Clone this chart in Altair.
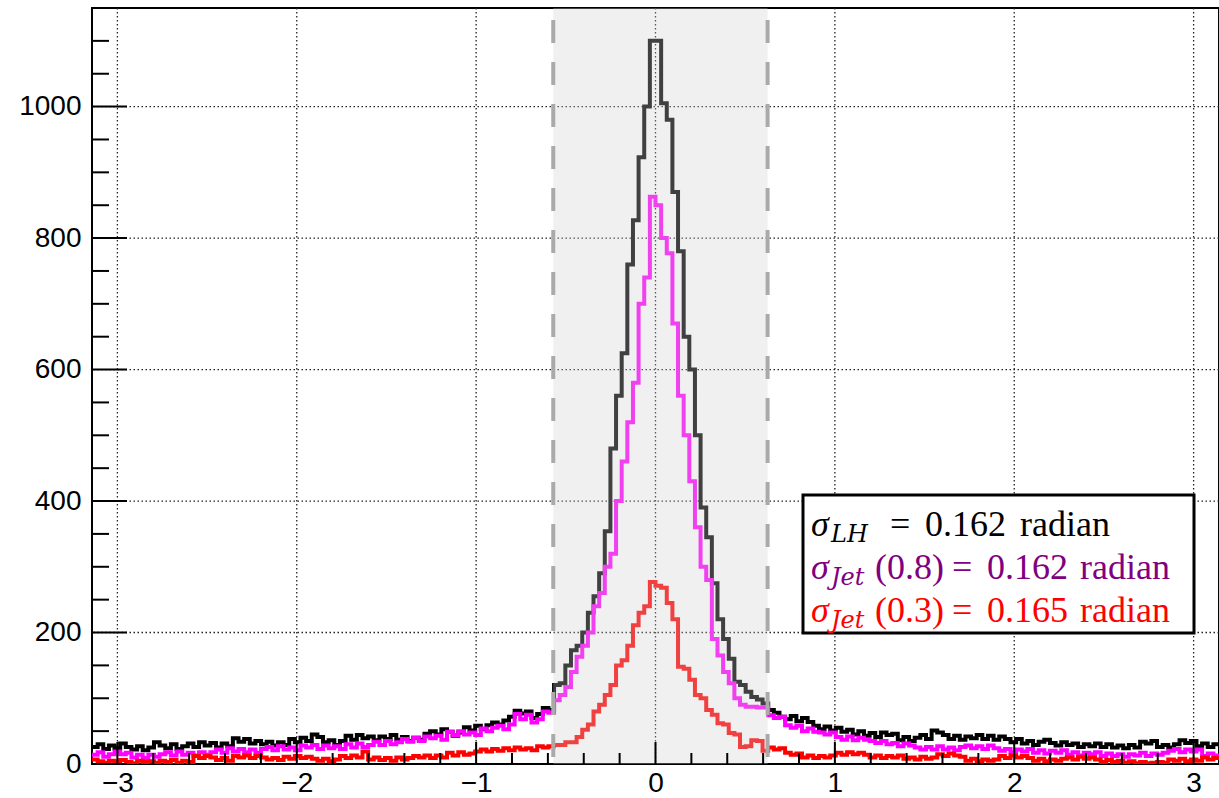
import math
import numpy as np
import pandas as pd
import altair as alt

PI = math.pi
N_BINS = 200

# ---- histogram contents (200 bins from -pi to pi) ----
lh_counts = [
    26, 30, 23, 28, 24, 31, 26, 22, 27, 21,
    25, 33, 28, 24, 30, 23, 27, 31, 26, 33,
    28, 32, 25, 31, 27, 39, 34, 38, 31, 35,
    30, 34, 28, 33, 29, 38, 33, 40, 35, 45,
    41, 33, 36, 29, 35, 43, 37, 44, 39, 42,
    36, 42, 38, 44, 37, 41, 35, 40, 37, 46,
    50, 45, 53, 49, 43, 48, 56, 51, 58, 53,
    59, 63, 60, 66, 72, 81, 77, 80, 70, 76,
    85, 82, 120, 123, 150, 173, 180, 200, 230, 255,
    290, 354, 480, 560, 625, 760, 827, 923, 1000, 1100,
    1100, 1005, 980, 870, 780, 650, 600, 500, 390, 345,
    275, 220, 190, 160, 125, 120, 110, 102, 98, 92,
    82, 78, 72, 68, 73, 65, 70, 64, 58, 53,
    57, 51, 55, 49, 52, 45, 50, 43, 47, 41,
    48, 44, 46, 36, 41, 35, 40, 44, 38, 51,
    48, 44, 38, 43, 37, 42, 39, 44, 38, 43,
    37, 42, 38, 33, 38, 31, 35, 29, 34, 37,
    32, 28, 33, 29, 31, 26, 30, 27, 31, 26,
    30, 25, 28, 24, 29, 25, 34, 31, 35, 26,
    29, 25, 30, 36, 32, 35, 27, 31, 26, 30,
]

jet08_counts = [
    14, 18, 11, 15, 19, 15, 17, 10, 14, 9,
    14, 11, 15, 18, 13, 19, 14, 17, 13, 18,
    14, 18, 22, 17, 24, 19, 23, 18, 22, 17,
    23, 26, 21, 27, 22, 25, 21, 28, 25, 29,
    23, 28, 24, 27, 23, 30, 25, 31, 26, 29,
    34, 29, 35, 30, 33, 38, 34, 40, 35, 42,
    39, 43, 37, 49, 44, 50, 45, 48, 44, 54,
    50, 55, 58, 53, 60, 76, 68, 75, 63, 68,
    80, 78, 97, 105, 117, 140, 163, 180, 200, 240,
    260, 300, 320, 400, 460, 520, 580, 700, 740, 863,
    850, 800, 777, 670, 560, 500, 430, 360, 300, 280,
    190, 165, 140, 123, 100, 90, 87, 87, 86, 86,
    74, 70, 72, 59, 55, 58, 50, 54, 49, 48,
    45, 48, 41, 37, 42, 36, 40, 37, 35, 32,
    35, 30, 32, 27, 31, 28, 25, 22, 26, 22,
    27, 22, 25, 21, 26, 28, 24, 27, 23, 28,
    24, 20, 23, 18, 22, 19, 23, 17, 21, 16,
    20, 17, 21, 14, 18, 13, 17, 15, 18, 12,
    16, 12, 15, 11, 15, 13, 17, 12, 16, 14,
    17, 20, 23, 18, 22, 19, 22, 12, 16, 13,
]

jet03_counts = [
    7, 4, 2, 5, 3, 6, 3, 1, 5, 3,
    4, 2, 5, 3, 6, 2, 5, 3, 12, 9,
    12, 10, 6, 9, 5, 12, 10, 13, 9, 12,
    10, 7, 9, 6, 11, 8, 12, 9, 11, 8,
    5, 8, 4, 7, 12, 9, 13, 10, 19, 7,
    10, 6, 9, 5, 10, 7, 9, 12, 10, 13,
    9, 13, 10, 17, 13, 18, 14, 16, 19, 22,
    19, 23, 20, 24, 21, 25, 22, 24, 21, 27,
    25, 27, 29, 29, 33, 33, 41, 52, 60, 80,
    90, 105, 120, 150, 158, 180, 211, 230, 240, 277,
    271, 268, 245, 220, 148, 145, 128, 105, 100, 82,
    75, 62, 60, 47, 45, 26, 27, 36, 35, 20,
    25, 22, 24, 17, 14, 16, 10, 13, 9, 12,
    10, 13, 17, 14, 18, 15, 17, 14, 10, 13,
    9, 12, 10, 13, 8, 10, 7, 11, 8, 10,
    15, 12, 16, 13, 11, 5, 8, 4, 7, 5,
    7, 12, 9, 13, 10, 12, 9, 5, 8, 4,
    7, 5, 8, 10, 7, 11, 8, 10, 7, 3,
    6, 3, 5, 2, 4, 1, 3, 1, 2, 3,
    2, 7, 5, 8, 4, 7, 5, 10, 7, 9,
]

band_edges = [-0.57, 0.625]
x_major_ticks = [-3, -2, -1, 0, 1, 2, 3]
x_minor_ticks = [-2.8, -2.6, -2.4, -2.2, -1.8, -1.6, -1.4, -1.2, -0.8, -0.6, -0.4, -0.2,
                 0.2, 0.4, 0.6, 0.8, 1.2, 1.4, 1.6, 1.8, 2.2, 2.4, 2.6, 2.8]
y_major_ticks = [0, 200, 400, 600, 800, 1000]
y_minor_ticks = [50, 100, 150, 250, 300, 350, 450, 500, 550, 650, 700, 750,
                 850, 900, 950, 1050, 1100, 1150]

legend_lines = [
    # (sigma subscript, argument, value, colour)
    ("LH", "", "0.162", "#000000"),
    ("Jet", "(0.8)", "0.162", "#800080"),
    ("Jet", "(0.3)", "0.165", "#ff0000"),
]

# ---- layout ----
W, H = 1127, 756
PAD_L, PAD_T = 92, 8
Y_MAX = 1150

edges = np.linspace(-PI, PI, N_BINS + 1)


def step_frame(values):
    xs = list(edges[:-1]) + [edges[-1]]
    ys = list(values) + [values[-1]]
    return pd.DataFrame({"x": xs, "y": ys})


xscale = alt.Scale(domain=[-PI, PI], nice=False, zero=False)
yscale = alt.Scale(domain=[0, Y_MAX], nice=False, zero=True)

x_axis = alt.Axis(values=x_major_ticks, format="d", labelFont="Liberation Sans",
                  labelFontSize=28, labelColor="#000000", labelPadding=5,
                  ticks=False, tickSize=0, domain=False, grid=False,
                  labelOverlap=False, labelFlush=False, title="")
y_axis = alt.Axis(values=y_major_ticks, format="d", labelFont="Liberation Sans",
                  labelFontSize=28, labelColor="#000000", labelPadding=11,
                  ticks=False, tickSize=0, domain=False, grid=False,
                  labelOverlap=False, labelFlush=False, title="")

# grid
xgrid = alt.Chart(pd.DataFrame({"x": x_major_ticks})).mark_rule(
    color="#222222", strokeWidth=1.3, strokeDash=[1.5, 2.5]
).encode(x=alt.X("x:Q", scale=xscale, axis=x_axis))
ygrid = alt.Chart(pd.DataFrame({"y": y_major_ticks[1:]})).mark_rule(
    color="#222222", strokeWidth=1.3, strokeDash=[1.5, 2.5]
).encode(y=alt.Y("y:Q", scale=yscale, axis=y_axis))


def hist_layer(values, colour):
    return alt.Chart(step_frame(values)).mark_line(
        interpolate="step-after", color=colour, strokeWidth=4, clip=True
    ).encode(x=alt.X("x:Q", scale=xscale), y=alt.Y("y:Q", scale=yscale))


h_lh = hist_layer(lh_counts, "#000000")
h_08 = hist_layer(jet08_counts, "#ff00ff")
h_03 = hist_layer(jet03_counts, "#ff0000")

band_df = pd.DataFrame({"x": [band_edges[0]], "x2": [band_edges[1]]})
band = alt.Chart(band_df).mark_rect(color="#cecece", opacity=0.31).encode(
    x=alt.X("x:Q", scale=xscale), x2="x2:Q", y=alt.value(0), y2=alt.value(H)
)
band_lines = alt.Chart(pd.DataFrame({"x": band_edges})).mark_rule(
    color="#aaaaaa", strokeWidth=4, strokeDash=[23, 19]
).encode(x=alt.X("x:Q", scale=xscale), y=alt.value(12), y2=alt.value(H))

# inner ticks
tick_style = dict(color="#000000", strokeWidth=2)
y_major_rule = alt.Chart(pd.DataFrame({"y": y_major_ticks})).mark_rule(**tick_style).encode(
    y=alt.Y("y:Q", scale=yscale), x=alt.value(0), x2=alt.value(35))
y_minor_rule = alt.Chart(pd.DataFrame({"y": y_minor_ticks})).mark_rule(**tick_style).encode(
    y=alt.Y("y:Q", scale=yscale), x=alt.value(0), x2=alt.value(17))
x_major_rule = alt.Chart(pd.DataFrame({"x": x_major_ticks})).mark_rule(**tick_style).encode(
    x=alt.X("x:Q", scale=xscale), y=alt.value(H), y2=alt.value(H - 22))
x_minor_rule = alt.Chart(pd.DataFrame({"x": x_minor_ticks})).mark_rule(**tick_style).encode(
    x=alt.X("x:Q", scale=xscale), y=alt.value(H), y2=alt.value(H - 11))

# legend box
box = alt.Chart(pd.DataFrame({"a": [0]})).mark_rect(
    fill="#ffffff", stroke="#000000", strokeWidth=3
).encode(x=alt.value(803 - PAD_L), x2=alt.value(1194 - PAD_L),
         y=alt.value(495 - PAD_T), y2=alt.value(633 - PAD_T))

sig_rows, sub_rows, main_rows = [], [], []
baselines = [536, 579, 622]
for (sub, arg, val, col), base in zip(legend_lines, baselines):
    b = base - PAD_T
    sig_rows.append({"px": 811 - PAD_L, "py": b, "t": "σ", "c": col})
    sub_rows.append({"px": 831 - PAD_L, "py": b + 6, "t": sub, "c": col})
    if arg:
        main_rows += [
            {"px": 875 - PAD_L, "py": b, "t": arg, "c": col},
            {"px": 952 - PAD_L, "py": b, "t": "=", "c": col},
            {"px": 987 - PAD_L, "py": b, "t": val, "c": col},
            {"px": 1080 - PAD_L, "py": b, "t": "radian", "c": col},
        ]
    else:
        main_rows += [
            {"px": 890 - PAD_L, "py": b, "t": "=", "c": col},
            {"px": 925 - PAD_L, "py": b, "t": val, "c": col},
            {"px": 1020 - PAD_L, "py": b, "t": "radian", "c": col},
        ]


def text_layer(rows, size, style, font):
    return alt.Chart(pd.DataFrame(rows)).mark_text(
        align="left", baseline="alphabetic", fontSize=size, fontStyle=style, font=font
    ).encode(
        x=alt.X("px:Q", scale=None), y=alt.Y("py:Q", scale=None),
        text="t:N", color=alt.Color("c:N", scale=None),
    )


t_sig = text_layer(sig_rows, 36, "italic", "Liberation Serif")
t_sub = text_layer(sub_rows, 24, "italic", "DejaVu Serif")
t_main = text_layer(main_rows, 36, "normal", "Liberation Serif")

chart = alt.layer(
    xgrid, ygrid, h_lh, h_08, h_03, band, band_lines,
    y_major_rule, y_minor_rule, x_major_rule, x_minor_rule,
    box, t_sig, t_sub, t_main,
).properties(
    width=W, height=H,
    autosize=alt.AutoSizeParams(type="none"),
    padding={"left": PAD_L, "top": PAD_T, "right": 0, "bottom": 32},
    background="#ffffff",
).configure_view(stroke="#000000", strokeWidth=2)

chart.save("out.html", embed_options={"renderer": "svg", "actions": False})
